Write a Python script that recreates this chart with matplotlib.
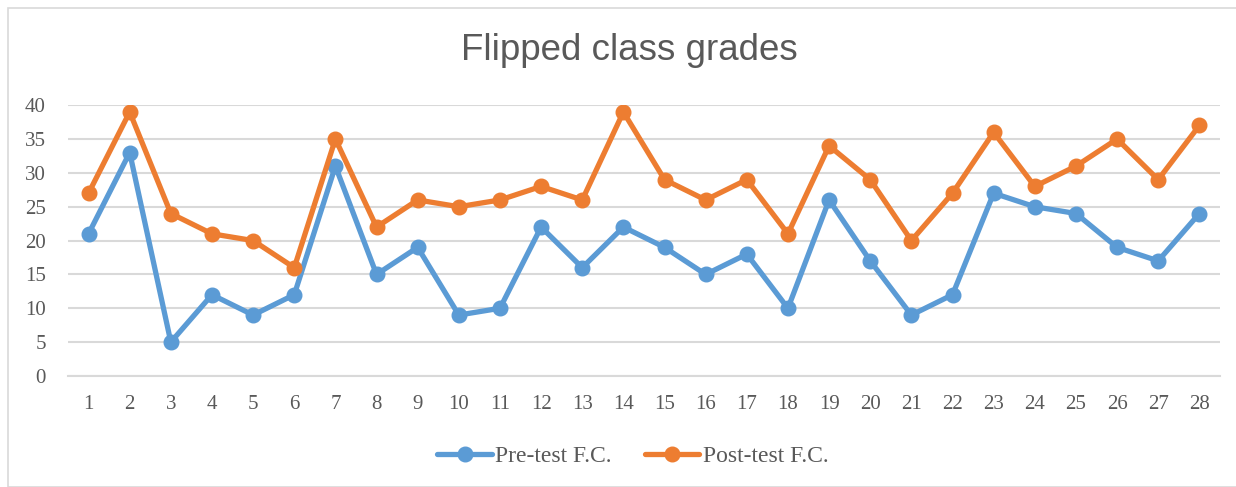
import matplotlib.pyplot as plt
from matplotlib.patches import Rectangle

students = list(range(1, 29))
pre_test = [21, 33, 5, 12, 9, 12, 31, 15, 19, 9, 10, 22, 16, 22, 19, 15, 18, 10,
            26, 17, 9, 12, 27, 25, 24, 19, 17, 24]
post_test = [27, 39, 24, 21, 20, 16, 35, 22, 26, 25, 26, 28, 26, 39, 29, 26, 29, 21,
             34, 29, 20, 27, 36, 28, 31, 35, 29, 37]
y_ticks = [0, 5, 10, 15, 20, 25, 30, 35, 40]

blue = '#5B9BD5'
orange = '#ED7D31'
text_col = '#595959'
grid_col = '#D9D9D9'

fig = plt.figure(figsize=(12.36, 4.87), dpi=100)
ax = fig.add_axes([0.055, 0.228, 0.932, 0.556])

# outer chart border
fig.patches.append(Rectangle((8 / 1236, 0), 1.0, 1 - 8 / 487, transform=fig.transFigure,
                             fill=False, edgecolor='#D9D9D9', linewidth=1.2))

ax.plot(students, pre_test, color=blue, linewidth=3.8, marker='o', markersize=10.5,
        label='Pre-test F.C.', solid_capstyle='round', solid_joinstyle='round')
ax.plot(students, post_test, color=orange, linewidth=3.8, marker='o', markersize=10.5,
        label='Post-test F.C.', solid_capstyle='round', solid_joinstyle='round')

ax.set_xlim(0.5, 28.5)
ax.set_ylim(0, 40)
ax.set_yticks(y_ticks)
ax.set_xticks(students)
ax.yaxis.grid(True, color=grid_col, linewidth=1.5)
ax.set_axisbelow(True)
for s in ax.spines.values():
    s.set_visible(False)
ax.spines['bottom'].set_visible(True)
ax.spines['bottom'].set_color(grid_col)
ax.spines['bottom'].set_linewidth(1.5)
ax.tick_params(length=0, labelcolor=text_col, labelsize=15)
ax.tick_params(axis='x', pad=14)
ax.tick_params(axis='y', pad=16)
for lab in ax.get_xticklabels() + ax.get_yticklabels():
    lab.set_family('Liberation Serif')

fig.text(0.509, 0.897, 'Flipped class grades', ha='center', va='center',
         fontsize=26.5, color=text_col, family='Liberation Sans')

leg = fig.legend(loc='center', bbox_to_anchor=(0.512, 0.063), ncol=2, frameon=False,
                 prop={'family': 'Liberation Serif', 'size': 17}, handlelength=2.3,
                 columnspacing=1.4, handletextpad=0.15)
for t in leg.get_texts():
    t.set_color(text_col)

fig.savefig('out.png', dpi=100)
